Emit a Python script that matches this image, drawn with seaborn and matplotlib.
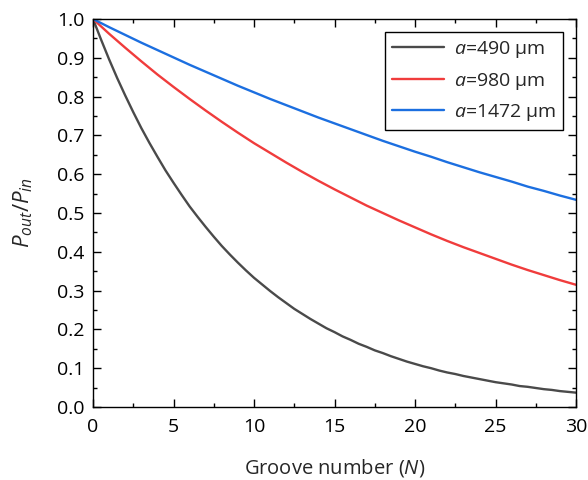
import matplotlib
matplotlib.use("Agg")
import matplotlib.pyplot as plt
from matplotlib.ticker import MultipleLocator, FormatStrFormatter
import seaborn as sns
import pandas as pd

# Groove number samples (finer steps for the steep a=490 curve)
N_fine = [i / 2 for i in range(0, 61)]
N_int = list(range(0, 31))

# Transmitted power ratio P_out/P_in for each groove period
p_490 = [1.000, 0.947, 0.896, 0.848, 0.803, 0.760, 0.719, 0.681, 0.645, 0.610,
         0.578, 0.547, 0.517, 0.490, 0.464, 0.439, 0.415, 0.393, 0.372, 0.352,
         0.333, 0.316, 0.299, 0.283, 0.268, 0.253, 0.240, 0.227, 0.215, 0.203,
         0.193, 0.182, 0.173, 0.163, 0.155, 0.146, 0.139, 0.131, 0.124, 0.117,
         0.111, 0.105, 0.100, 0.094, 0.089, 0.085, 0.080, 0.076, 0.072, 0.068,
         0.064, 0.061, 0.058, 0.054, 0.052, 0.049, 0.046, 0.044, 0.041, 0.039,
         0.037]
p_980 = [1.000, 0.962, 0.926, 0.891, 0.857, 0.825, 0.794, 0.764, 0.735, 0.707,
         0.680, 0.655, 0.630, 0.606, 0.583, 0.561, 0.540, 0.519, 0.500, 0.481,
         0.463, 0.445, 0.428, 0.412, 0.397, 0.382, 0.367, 0.353, 0.340, 0.327,
         0.315]
p_1472 = [1.000, 0.979, 0.959, 0.939, 0.920, 0.901, 0.882, 0.864, 0.846, 0.828,
          0.811, 0.794, 0.778, 0.762, 0.746, 0.731, 0.716, 0.701, 0.686, 0.672,
          0.658, 0.645, 0.631, 0.618, 0.605, 0.593, 0.581, 0.568, 0.557, 0.545,
          0.534]

labels = [r"$\it{a}$=490 μm", r"$\it{a}$=980 μm", r"$\it{a}$=1472 μm"]
colors = ["#4a4a4a", "#f03c3c", "#1c6fe0"]

df = pd.DataFrame({
    "N": N_fine + N_int + N_int,
    "P": p_490 + p_980 + p_1472,
    "series": [labels[0]] * len(N_fine) + [labels[1]] * len(N_int)
              + [labels[2]] * len(N_int),
})

sns.set_theme(style="ticks")
plt.rcParams["font.family"] = ["Open Sans", "DejaVu Sans"]
plt.rcParams["mathtext.fontset"] = "custom"
plt.rcParams["mathtext.it"] = "Open Sans:italic"
plt.rcParams["mathtext.rm"] = "Open Sans"

fig = plt.figure(figsize=(5.88, 4.8), dpi=100)
ax = fig.add_axes([93 / 588, 1 - 407 / 480, (576 - 93) / 588, (407 - 19) / 480])

sns.lineplot(data=df, x="N", y="P", hue="series", palette=colors,
             linewidth=1.7, ax=ax)

ax.set_xlim(0, 30)
ax.set_ylim(0, 1.0)
ax.xaxis.set_major_locator(MultipleLocator(5))
ax.xaxis.set_minor_locator(MultipleLocator(2.5))
ax.yaxis.set_major_locator(MultipleLocator(0.1))
ax.yaxis.set_minor_locator(MultipleLocator(0.05))
ax.yaxis.set_major_formatter(FormatStrFormatter("%.1f"))

for side in ["top", "right", "bottom", "left"]:
    ax.spines[side].set_visible(True)
    ax.spines[side].set_color("black")
    ax.spines[side].set_linewidth(1.0)

ax.tick_params(which="both", direction="in", top=True, right=True,
               colors="black", labelsize=14)
ax.tick_params(which="major", length=6, width=1.0)
ax.tick_params(which="minor", length=3, width=1.0)
ax.tick_params(axis="x", which="major", pad=8)
ax.tick_params(axis="y", which="major", pad=6)

ax.set_xlabel(r"Groove number ($\it{N}$)", fontsize=14.5, labelpad=15)
ax.set_ylabel(r"$\it{P}_{\it{out}}$/$\it{P}_{\it{in}}$", fontsize=16, labelpad=16)

leg = ax.legend(loc="upper right", fontsize=14, frameon=True, fancybox=False,
                edgecolor="black", handlelength=2.7, handletextpad=0.5,
                borderpad=0.35, borderaxespad=0, labelspacing=0.55,
                bbox_to_anchor=((563 - 93) / 483, (407 - 32) / 388))
leg.get_frame().set_linewidth(1.0)
leg.get_frame().set_alpha(1)

fig.savefig("out.png", dpi=100)
